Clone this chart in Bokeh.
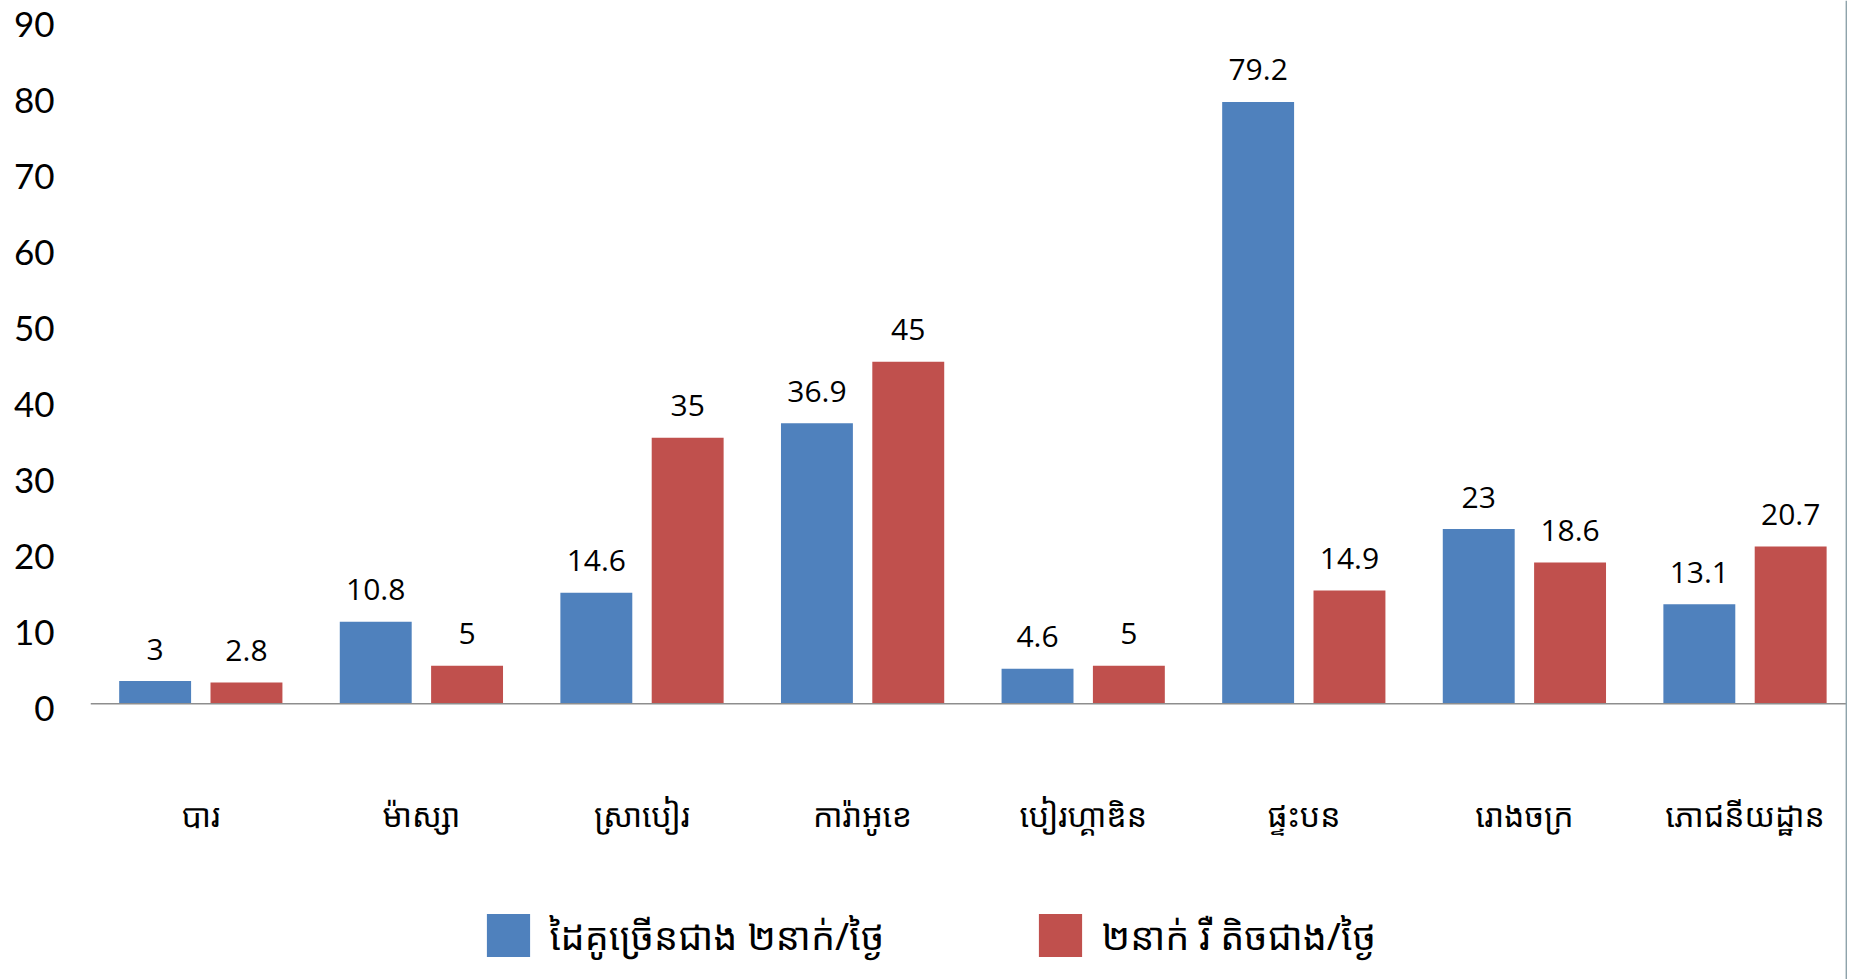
from bokeh.plotting import figure
from bokeh.models import Range1d, FixedTicker, Span, Legend, LegendItem, ColumnDataSource, LinearAxis
from bokeh.core.properties import value
from bokeh.embed import file_html
from bokeh.resources import INLINE

# ---------------- data ----------------
categories = ["បារ", "ម៉ាស្សា", "ស្រាបៀរ", "ការ៉ាអូខេ", "បៀរហ្គាឌិន", "ផ្ទះបន", "រោងចក្រ", "ភោជនីយដ្ឋាន"]
more_than_two = [3, 10.8, 14.6, 36.9, 4.6, 79.2, 23, 13.1]
two_or_less = [2.8, 5, 35, 45, 5, 14.9, 18.6, 20.7]
series_names = ["ដៃគូច្រើនជាង ២នាក់/ថ្ងៃ", "២នាក់ រឺ តិចជាង/ថ្ងៃ"]
y_ticks = [0, 10, 20, 30, 40, 50, 60, 70, 80, 90]

# ---------------- layout / style ----------------
W, H = 1847, 979
FRAME_LEFT = 90
PX_PER_CAT = 220.6
PX_PER_UNIT = 7.6
ZERO_Y = 703.3          # figure pixel row of value 0
LABEL_SHIFT_PX = 4.5    # tick labels sit slightly below their gridline positions
BLUE = "#4F81BD"
RED = "#C0504D"
KHMER_FONT = "'Noto Sans Khmer', 'Khmer OS', 'Noto Sans', sans-serif"
NUM_FONT = "Lato"
LABEL_FONT = "Open Sans"

x_end = (W - FRAME_LEFT) / PX_PER_CAT
y_end = ZERO_Y / PX_PER_UNIT
y_start = -(H - ZERO_Y) / PX_PER_UNIT
shift = LABEL_SHIFT_PX / PX_PER_UNIT

p = figure(width=W, height=H, output_backend="svg", toolbar_location=None,
           x_range=Range1d(0, x_end), y_range=Range1d(y_start, y_end),
           x_axis_location=None, y_axis_location=None,
           min_border_left=FRAME_LEFT, min_border_right=0,
           min_border_top=0, min_border_bottom=0)
p.extra_y_ranges = {"labels": Range1d(y_start + shift, y_end + shift)}
p.outline_line_color = None
p.grid.visible = False
p.background_fill_color = "white"
p.border_fill_color = "white"

yax = LinearAxis(y_range_name="labels", ticker=FixedTicker(ticks=y_ticks))
yax.axis_line_color = None
yax.major_tick_line_color = None
yax.minor_tick_line_color = None
yax.major_tick_out = 0
yax.major_tick_in = 0
yax.major_label_text_font = NUM_FONT
yax.major_label_text_font_size = "35px"
yax.major_label_text_color = "black"
yax.major_label_standoff = 36
p.add_layout(yax, "left")

n = len(categories)
centers = [i + 0.5 for i in range(n)]
off = 0.207
bw = 0.326
blue_x = [c - off for c in centers]
red_x = [c + off for c in centers]

src_b = ColumnDataSource(dict(x=blue_x, top=more_than_two, lab=[f"{v:g}" for v in more_than_two]))
src_r = ColumnDataSource(dict(x=red_x, top=two_or_less, lab=[f"{v:g}" for v in two_or_less]))

rb = p.vbar(x="x", top="top", bottom=0, width=bw, source=src_b, fill_color=BLUE, line_color=None)
rr = p.vbar(x="x", top="top", bottom=0, width=bw, source=src_r, fill_color=RED, line_color=None)

# baseline (category axis line)
p.add_layout(Span(location=0, dimension="width", line_color="#8e8e8e", line_width=1.5))
# right edge decorative line
p.add_layout(Span(location=x_end - 0.003, dimension="height", line_color="#8fa3ab", line_width=2.5))

# value labels
for src in (src_b, src_r):
    p.text(x="x", y="top", text="lab", source=src, text_font=value(LABEL_FONT), text_font_size="30px",
           text_align="center", text_baseline="alphabetic", y_offset=-32, text_color="black")

# category labels
src_c = ColumnDataSource(dict(x=centers, y=[0] * n, t=categories))
p.text(x="x", y="y", text="t", source=src_c, text_font=value(KHMER_FONT), text_font_size="32px",
       text_align="center", text_baseline="middle", y_offset=111, text_color="black")

# legends (two separate boxes to pin positions)
def make_legend(label, rend, x):
    return Legend(items=[LegendItem(label=label, renderers=[rend])], orientation="horizontal",
                  location=(x, 17.5), glyph_width=54, glyph_height=54, label_standoff=15,
                  label_text_font=KHMER_FONT, label_text_font_size="38px", label_text_color="black",
                  label_text_baseline="middle",
                  padding=0, margin=0, border_line_color=None, background_fill_alpha=0,
                  label_height=54)

p.add_layout(make_legend(series_names[0], rb, 390.6))
p.add_layout(make_legend(series_names[1], rr, 942.6))

open("out.html", "w").write(file_html(p, INLINE))
